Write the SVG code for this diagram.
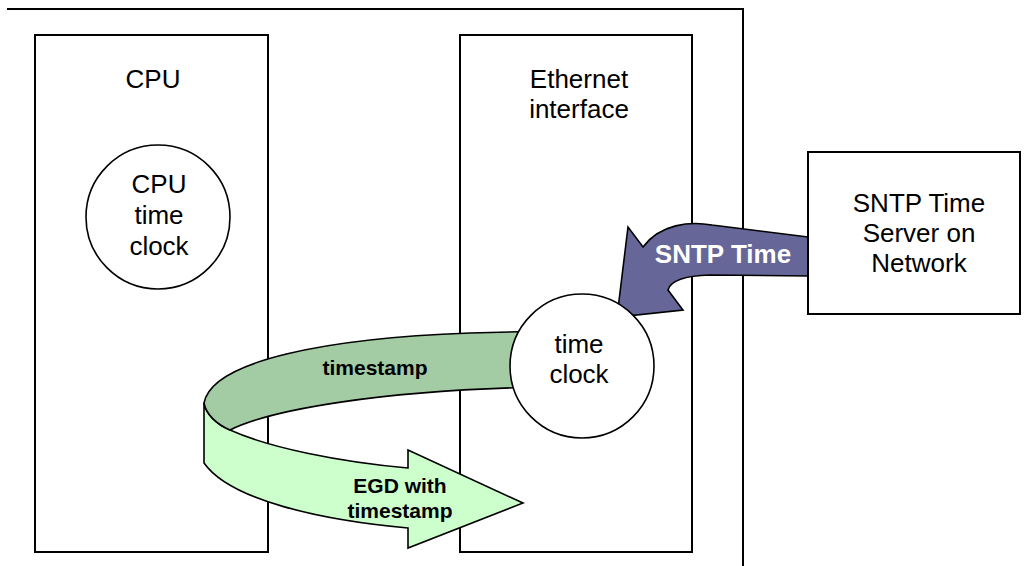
<svg xmlns="http://www.w3.org/2000/svg" width="1024" height="566" viewBox="0 0 1024 566">
<style>
.box{fill:none;stroke:#000;stroke-width:2}
.wbox{fill:#fff;stroke:#000;stroke-width:2}
.circ{fill:#fff;stroke:#000;stroke-width:1.6}
.t{font-family:"Liberation Sans",Arial,sans-serif;font-size:26px;fill:#000;text-anchor:middle}
.b{font-family:"Liberation Sans",Arial,sans-serif;font-weight:bold;font-size:21px;fill:#000;text-anchor:middle}
.arr{stroke:#000;stroke-width:1.6;stroke-linejoin:miter}
</style>
<rect width="1024" height="566" fill="#fff"/>
<g id="frame">
<path d="M7,9 H743 V566" fill="none" stroke="#000" stroke-width="2"/>
</g>
<g id="cpu">
<rect class="box" x="35" y="35" width="233" height="517"/>
<text class="t" x="153" y="88">CPU</text>
</g>
<g id="ethernet">
<rect class="box" x="460" y="35" width="232" height="517"/>
<text class="t" x="579" y="88">Ethernet</text>
<text class="t" x="579" y="118">interface</text>
</g>
<g id="connectors">
<path id="sntp-arrow" class="arr" fill="#666699" d="M808,237 L712,225 C690,221 660,224 643,247 L628,227 L617,317 L683,310 L668,290 C670,282 680,276 710,275 L808,276 Z"/>
<text x="723" y="263" font-family="'Liberation Sans',Arial,sans-serif" font-weight="bold" font-size="26" fill="#fff" text-anchor="middle">SNTP Time</text>
<path id="egd-front" class="arr" fill="#ccffcc" d="M204,403 C206,414 216,424 230,430 C270,448 340,462 408,468 L408,450 L523,503 L408,548 L408,528 C320,520 230,500 204,463 Z"/>
<path id="timestamp-back" class="arr" fill="#a3cca5" d="M545,331 L470,333 C330,338 212,360 204,403 C206,414 216,424 230,430 C270,410 380,390 545,387 Z"/>
<text class="b" x="375" y="375">timestamp</text>
<text class="b" x="400" y="493">EGD with</text>
<text class="b" x="400" y="518">timestamp</text>
</g>
<g id="cpu-clock">
<circle class="circ" cx="158" cy="217" r="72"/>
<text class="t" x="159" y="193">CPU</text>
<text class="t" x="159" y="224">time</text>
<text class="t" x="159" y="255">clock</text>
</g>
<g id="time-clock">
<circle class="circ" cx="582" cy="366" r="72"/>
<text class="t" x="579" y="353">time</text>
<text class="t" x="579" y="383">clock</text>
</g>
<g id="server">
<rect class="wbox" x="808" y="152" width="212" height="162"/>
<text class="t" x="919" y="212">SNTP Time</text>
<text class="t" x="919" y="242">Server on</text>
<text class="t" x="919" y="272">Network</text>
</g>
</svg>
